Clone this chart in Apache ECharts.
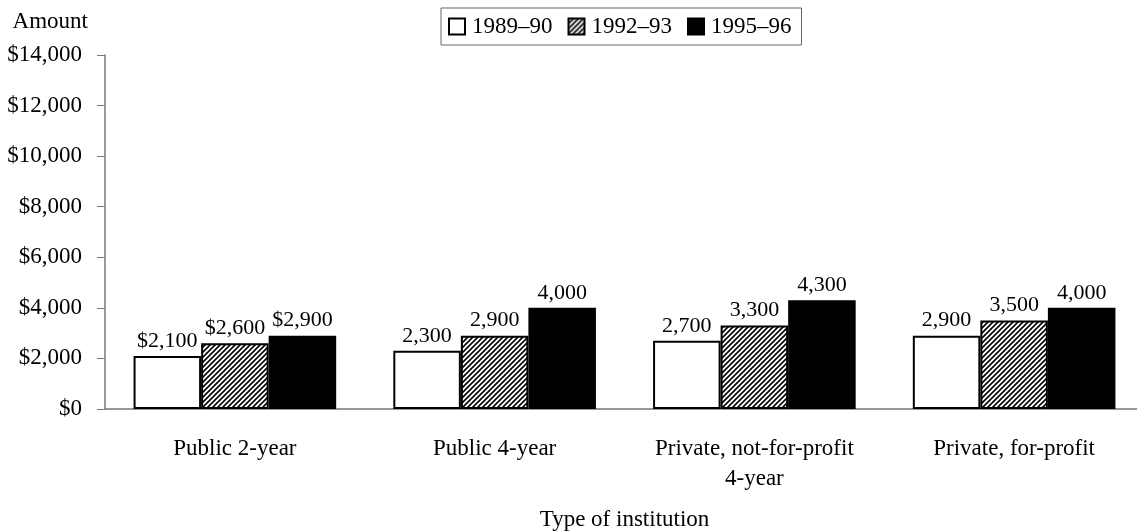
<!DOCTYPE html>
<html>
<head>
    <meta charset="UTF-8">
    <title>Amount by type of institution</title>
    <script type="text/javascript" src="https://cdn.jsdelivr.net/npm/echarts@6/dist/echarts.min.js"></script>
</head>
<body style="margin: 0">
<div id="container" style="width: 1137px; height: 531px"></div>
<script type="text/javascript">
    const categories = ['Public 2-year', 'Public 4-year', 'Private, not-for-profit\n4-year', 'Private, for-profit'];
    const years = ['1989\u201390', '1992\u201393', '1995\u201396'];
    const values1989 = [2100, 2300, 2700, 2900];
    const values1992 = [2600, 2900, 3300, 3500];
    const values1995 = [2900, 4000, 4300, 4000];
    const labels1989 = ['$2,100', '2,300', '2,700', '2,900'];
    const labels1992 = ['$2,600', '2,900', '3,300', '3,500'];
    const labels1995 = ['$2,900', '4,000', '4,300', '4,000'];

    // diagonal hatch tile
    const tile = document.createElement('canvas');
    tile.width = 5;
    tile.height = 5;
    const ctx = tile.getContext('2d');
    ctx.fillStyle = '#fff';
    ctx.fillRect(0, 0, 5, 5);
    ctx.strokeStyle = '#000';
    ctx.lineWidth = 1.6;
    ctx.beginPath();
    ctx.moveTo(-1, 6); ctx.lineTo(6, -1);
    ctx.moveTo(-3, 3); ctx.lineTo(3, -3);
    ctx.moveTo(2, 8); ctx.lineTo(8, 2);
    ctx.stroke();

    const font = '"Liberation Serif", "Times New Roman", serif';
    const fs = 23;

    function makeSeries(name, values, labels, fill) {
        return {
            name: name,
            type: 'bar',
            barGap: '0%',
            barCategoryGap: '22%',
            data: values.map((v, i) => ({value: v, label: {formatter: labels[i]}})),
            itemStyle: {color: fill, borderColor: '#000', borderWidth: 2},
            label: {
                show: true,
                position: 'top',
                distance: 4,
                color: '#000',
                fontFamily: font,
                fontSize: 22
            }
        };
    }

    const chart = echarts.init(document.getElementById('container'));
    chart.setOption({
        animation: false,
        textStyle: {fontFamily: font, color: '#000'},
        grid: {left: 105, right: -7, top: 55, bottom: 122, outerBoundsMode: 'none'},
        legend: {
            data: years,
            icon: 'rect',
            top: 8,
            left: 441,
            itemWidth: 16,
            itemHeight: 16,
            itemGap: 15,
            padding: [7, 10, 7, 7],
            borderColor: '#666',
            borderWidth: 1,
            textStyle: {fontFamily: font, fontSize: fs, color: '#000', padding: [0, 0, 0, 2]}
        },
        xAxis: {
            type: 'category',
            data: categories,
            name: 'Type of institution',
            nameLocation: 'middle',
            nameGap: 99,
            nameTextStyle: {fontFamily: font, fontSize: fs, color: '#000'},
            axisLine: {lineStyle: {color: '#777', width: 1.5}},
            axisTick: {length: 8, lineStyle: {color: '#777'}},
            axisLabel: {
                fontFamily: font, fontSize: fs, color: '#000',
                margin: 25, lineHeight: 30
            }
        },
        yAxis: {
            type: 'value',
            min: 0,
            max: 14000,
            interval: 2000,
            name: 'Amount',
            nameLocation: 'end',
            nameGap: 22,
            nameTextStyle: {fontFamily: font, fontSize: fs, color: '#000', align: 'right', padding: [0, 17, 0, 0]},
            axisLine: {show: true, lineStyle: {color: '#777', width: 1.5}},
            axisTick: {show: true, length: 8, lineStyle: {color: '#777'}},
            splitLine: {show: false},
            axisLabel: {
                fontFamily: font, fontSize: fs, color: '#000', margin: 23,
                formatter: v => '$' + v.toLocaleString('en-US')
            }
        },
        series: [
            makeSeries(years[0], values1989, labels1989, '#fff'),
            makeSeries(years[1], values1992, labels1992, {image: tile, repeat: 'repeat'}),
            makeSeries(years[2], values1995, labels1995, '#000')
        ]
    });
</script>
</body>
</html>
